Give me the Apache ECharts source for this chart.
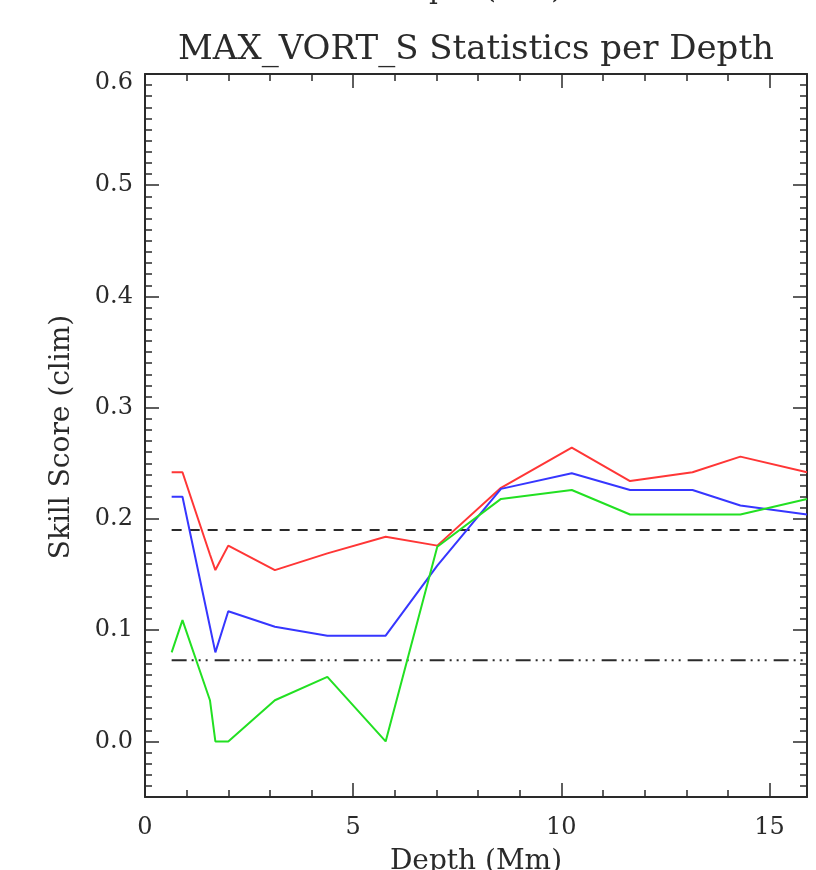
<!DOCTYPE html>
<html>
<head>
<meta charset="utf-8">
<script src="https://cdn.jsdelivr.net/npm/echarts@6/dist/echarts.min.js"></script>
<style>html,body{margin:0;padding:0;background:#fff}#c{width:816px;height:870px}</style>
</head>
<body>
<div id="c"></div>
<script>
// Data
const depth = [0.64, 0.90, 1.56, 1.69, 2.00, 3.12, 4.38, 5.78, 7.02, 8.55, 10.25, 11.65, 13.15, 14.30, 15.90];
const redScore   = [0.242, 0.242, 0.168, 0.154, 0.176, 0.154, 0.169, 0.184, 0.176, 0.228, 0.264, 0.234, 0.242, 0.256, 0.242];
const blueScore  = [0.220, 0.220, 0.103, 0.080, 0.117, 0.103, 0.095, 0.095, 0.158, 0.227, 0.241, 0.226, 0.226, 0.212, 0.204];
const greenScore = [0.080, 0.109, 0.037, 0.000, 0.000, 0.037, 0.058, 0.000, 0.175, 0.218, 0.226, 0.204, 0.204, 0.204, 0.218];
const dashedLevel = 0.19;
const dashDotLevel = 0.073;
const xMajorTicks = [0, 5, 10, 15];
const xMinorTicks = [1, 2, 3, 4, 6, 7, 8, 9, 11, 12, 13, 14];
const yMajorTicks = [0.0, 0.1, 0.2, 0.3, 0.4, 0.5, 0.6];
const titleText = 'MAX_VORT_S Statistics per Depth';
const xName = 'Depth (Mm)';
const yName = 'Skill Score (clim)';

const X_MIN = 0, X_MAX = 15.9, Y_MIN = -0.05, Y_MAX = 0.6;
const yMinorTicks = [];
for (let i = -4; i <= 59; i++) { if (i % 10 !== 0) yMinorTicks.push(+(i / 100).toFixed(2)); }

const INK = '#2a2a2a';
const FONT = 'DejaVu Serif';
const axisLineStyle = { color: INK, width: 2 };

function xAx(pos, major, labels) {
  return {
    type: 'value', position: pos, min: X_MIN, max: X_MAX,
    axisLine: { show: major, onZero: false, lineStyle: axisLineStyle },
    axisTick: { show: true, inside: true, length: major ? 14 : 7,
      customValues: major ? xMajorTicks : xMinorTicks, lineStyle: { color: INK, width: 1.5 } },
    axisLabel: labels ? { show: true, customValues: xMajorTicks, margin: 19, fontSize: 24,
      fontFamily: FONT, color: INK, formatter: v => String(v) } : { show: false },
    splitLine: { show: false }
  };
}
function yAx(pos, major, labels) {
  return {
    type: 'value', position: pos, min: Y_MIN, max: Y_MAX,
    axisLine: { show: major, onZero: false, lineStyle: axisLineStyle },
    axisTick: { show: true, inside: true, length: major ? 14 : 7,
      customValues: major ? yMajorTicks : yMinorTicks, lineStyle: { color: INK, width: 1.5 } },
    axisLabel: labels ? { show: true, customValues: yMajorTicks, margin: 12, fontSize: 24,
      fontFamily: FONT, color: INK,
      formatter: v => (Math.abs(v - 0.6) < 1e-9 ? '{top|' + v.toFixed(1) + '}' : v.toFixed(1)),
      rich: { top: { fontSize: 24, fontFamily: FONT, color: INK, padding: [17, 0, 0, 0] } }
    } : { show: false },
    splitLine: { show: false }
  };
}

const pairs = arr => depth.map((d, i) => [d, arr[i]]);
const levelLine = lv => [[depth[0], lv], [depth[depth.length - 1], lv]];

const chart = echarts.init(document.getElementById('c'), null, { renderer: 'canvas' });
chart.setOption({
  animation: false,
  backgroundColor: '#fff',
  grid: { left: 145, right: 9, top: 74, bottom: 73, containLabel: false },
  xAxis: [xAx('bottom', true, true), xAx('bottom', false, false), xAx('top', true, false), xAx('top', false, false)],
  yAxis: [yAx('left', true, true), yAx('left', false, false), yAx('right', true, false), yAx('right', false, false)],
  series: [
    { type: 'line', data: levelLine(dashedLevel), showSymbol: false, silent: true,
      lineStyle: { color: INK, width: 2, type: [10, 8] } },
    { type: 'line', data: levelLine(dashDotLevel), showSymbol: false, silent: true,
      lineStyle: { color: INK, width: 2, type: [15, 5, 2, 5, 2, 5, 2, 7] } },
    { type: 'line', data: pairs(redScore), showSymbol: false, silent: true,
      lineStyle: { color: '#ff3636', width: 2 } },
    { type: 'line', data: pairs(blueScore), showSymbol: false, silent: true,
      lineStyle: { color: '#3636ff', width: 2 } },
    { type: 'line', data: pairs(greenScore), showSymbol: false, silent: true,
      lineStyle: { color: '#22e022', width: 2 } }
  ],
  graphic: [
    { type: 'text', x: 476, y: 50, style: { text: titleText,
      fontSize: 34, fontFamily: FONT, fill: INK, align: 'center', verticalAlign: 'middle' } },
    { type: 'text', x: 476, y: 5, style: { text: xName, fontSize: 28, fontFamily: FONT, fill: INK,
      align: 'center', verticalAlign: 'bottom' } },
    { type: 'text', x: 476, y: 848, style: { text: xName, fontSize: 28, fontFamily: FONT, fill: INK,
      align: 'center', verticalAlign: 'top' } },
    { type: 'text', x: 62, y: 437, rotation: Math.PI / 2, style: { text: yName, fontSize: 28,
      fontFamily: FONT, fill: INK, align: 'center', verticalAlign: 'middle' } }
  ]
});
</script>
</body>
</html>
